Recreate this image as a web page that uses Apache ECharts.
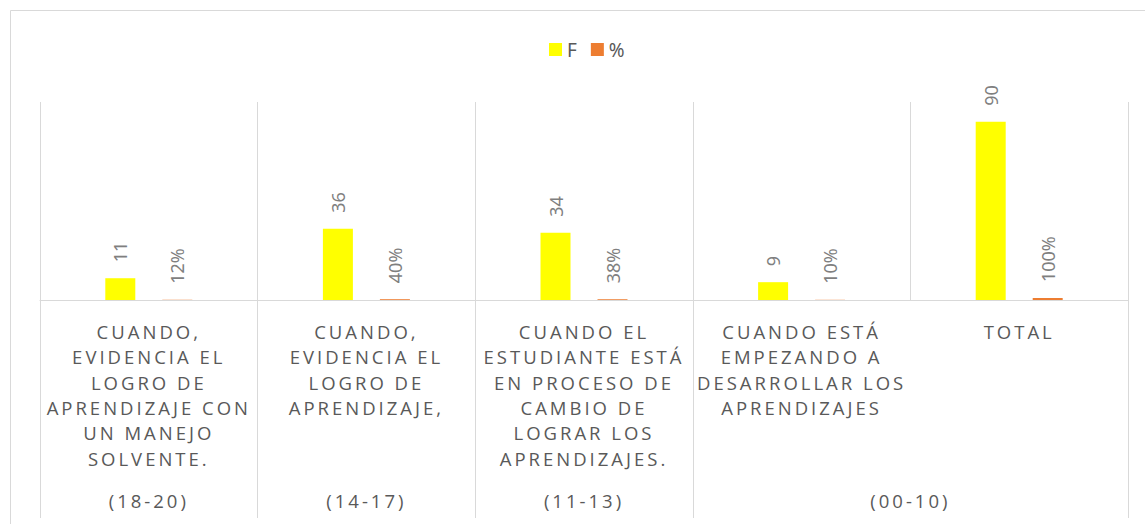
<!DOCTYPE html>
<html>
<head>
<meta charset="utf-8">
<script src="https://cdn.jsdelivr.net/npm/echarts@6/dist/echarts.min.js"></script>
<style>
  html, body { margin: 0; padding: 0; background: #fff; }
  #main { width: 1145px; height: 524px; }
  /* spaced-out capitals on the category axis, like the Excel original */
  #main text[style*="Open Sans"] { letter-spacing: 3px; }
</style>
</head>
<body>
<div id="main"></div>
<script>
// categories (nivel de logro)
var categories = [
  'CUANDO,\nEVIDENCIA EL\nLOGRO DE\nAPRENDIZAJE CON\nUN MANEJO\nSOLVENTE.',
  'CUANDO,\nEVIDENCIA EL\nLOGRO DE\nAPRENDIZAJE,',
  'CUANDO EL\nESTUDIANTE ESTÁ\nEN PROCESO DE\nCAMBIO DE\nLOGRAR LOS\nAPRENDIZAJES.',
  'CUANDO ESTÁ\nEMPEZANDO A\nDESARROLLAR LOS\nAPRENDIZAJES',
  'TOTAL'
]
// second level of the axis, and how many categories each one covers
var rangeLabels = ['(18-20)', '(14-17)', '(11-13)', '(00-10)']
var rangeSpans = [1, 1, 1, 2]

var seriesNames = ['F', '%']
var frecuencia = [11, 36, 34, 9, 90]
var porcentaje = [0.12, 0.40, 0.38, 0.10, 1.00]

// boundaries and centres of the merged ranges, in category units
var rangeEdges = [0]
var rangeCenters = []
rangeSpans.forEach(function (s, i) {
  var start = rangeEdges[i]
  rangeEdges.push(start + s)
  rangeCenters.push(start + s / 2)
})

var lineColor = '#d9d9d9'
var labelFont = 'Noto Sans'

var dom = document.getElementById('main')
var chart = echarts.init(dom, null, { renderer: 'svg' })

var option = {
  animation: false,
  backgroundColor: '#fff',
  graphic: [{
    type: 'rect',
    silent: true,
    shape: { x: 10.5, y: 10.5, width: 1300, height: 700 },
    style: { fill: 'none', stroke: lineColor, lineWidth: 1 }
  }],
  legend: {
    data: seriesNames,
    left: 544,
    top: 35,
    itemWidth: 13,
    itemHeight: 13,
    itemGap: 14,
    icon: 'rect',
    textStyle: { color: '#595959', fontSize: 19, fontFamily: labelFont }
  },
  grid: {
    left: 40,
    right: 17,
    top: 102,
    bottom: 224
  },
  xAxis: [
    {
      type: 'category',
      data: categories,
      position: 'bottom',
      axisLine: { lineStyle: { color: lineColor, width: 1 } },
      axisTick: { show: false },
      splitLine: { show: true, interval: 0, lineStyle: { color: lineColor, width: 1 } },
      axisLabel: {
        interval: 0,
        color: '#595959',
        fontSize: 18.5,
        lineHeight: 25.3,
        fontFamily: 'Open Sans',
        margin: 19
      }
    },
    {
      type: 'value',
      position: 'bottom',
      min: 0,
      max: categories.length,
      axisLine: { show: false },
      splitLine: { show: false },
      axisTick: {
        show: true,
        customValues: rangeEdges,
        length: 218,
        lineStyle: { color: lineColor, width: 1 }
      },
      axisLabel: {
        customValues: rangeCenters,
        formatter: function (v) {
          var i = rangeCenters.indexOf(v)
          return i >= 0 ? rangeLabels[i] : ''
        },
        color: '#595959',
        fontSize: 18.5,
        fontFamily: 'Open Sans',
        margin: 191
      }
    }
  ],
  yAxis: {
    type: 'value',
    min: 0,
    max: 100,
    show: false,
    splitLine: { show: false }
  },
  series: [
    {
      name: seriesNames[0],
      type: 'bar',
      data: frecuencia,
      barWidth: 30,
      barGap: '90%',
      itemStyle: { color: '#FFFF00' },
      label: {
        show: true,
        position: 'top',
        rotate: 90,
        align: 'left',
        verticalAlign: 'middle',
        distance: 16,
        color: '#7f7f7f',
        fontSize: 18,
        fontFamily: labelFont
      }
    },
    {
      name: seriesNames[1],
      type: 'bar',
      data: porcentaje,
      barWidth: 30,
      itemStyle: { color: '#ED7D31' },
      label: {
        show: true,
        position: 'top',
        rotate: 90,
        align: 'left',
        verticalAlign: 'middle',
        distance: 16,
        color: '#7f7f7f',
        fontSize: 18,
        fontFamily: labelFont,
        formatter: function (p) {
          return Math.round(p.value * 100) + '%'
        }
      }
    }
  ]
}

chart.setOption(option)
window.addEventListener('resize', function () { chart.resize() })
</script>
</body>
</html>
